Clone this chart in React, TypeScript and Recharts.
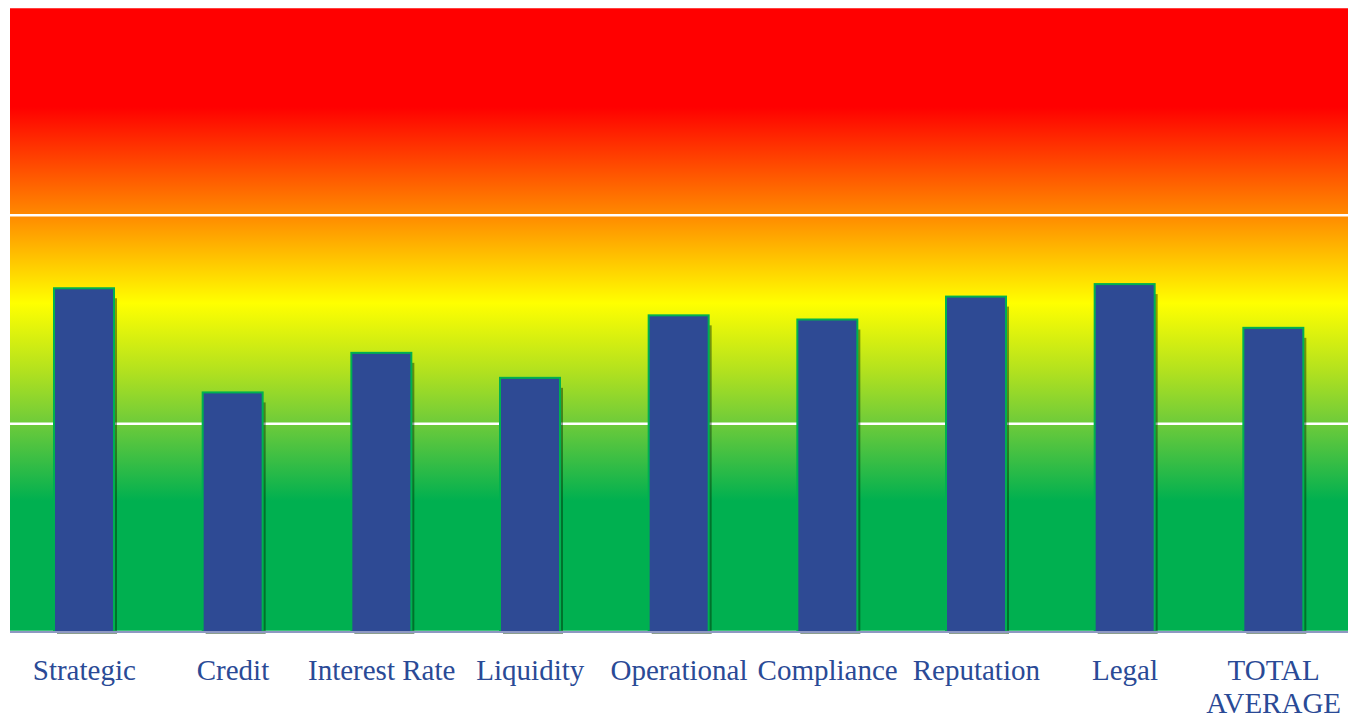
import React from 'react';
import { BarChart, Bar, XAxis, YAxis, CartesianGrid } from 'recharts';

const categories = ['Strategic', 'Credit', 'Interest Rate', 'Liquidity', 'Operational', 'Compliance', 'Reputation', 'Legal', 'TOTAL AVERAGE'];
const scores = [1.65, 1.15, 1.34, 1.22, 1.52, 1.5, 1.61, 1.67, 1.46];
const yTicks = [1, 2];

const data = categories.map((name, i) => ({ name, score: scores[i] }));

const FONT = '"Palatino Linotype", "Book Antiqua", Palatino, "Liberation Serif", serif';

const BarShape = (props: any) => {
  const { x, y, width, height } = props;
  return (
    <g>
      <rect x={x + 3} y={y + 10} width={width} height={height - 8} fill="rgba(0,40,0,0.45)" />
      <rect x={x} y={y} width={width} height={height} fill="#2E4A94" stroke="#00B050" strokeWidth={2} />
    </g>
  );
};

// all-caps labels (the total) are too wide for one slot, so they go on two lines
const Tick = (props: any) => {
  const { x, y, payload } = props;
  const label: string = payload.value;
  const lines = label === label.toUpperCase() ? label.split(' ') : [label];
  return (
    <text x={x} y={y + 40} textAnchor="middle" fill="#2A4A96" fontSize={29} fontFamily={FONT}>
      {lines.map((line, i) => (
        <tspan key={i} x={x} dy={i === 0 ? 0 : 33}>{line}</tspan>
      ))}
    </text>
  );
};

export default function App() {
  return (
    <div style={{ position: 'absolute', left: 0, top: 0, width: 1350, height: 720, background: '#fff' }}>
      <BarChart width={1350} height={720} data={data} margin={{ top: 7, right: 2, left: 10, bottom: 0 }} barCategoryGap={0}>
        <defs>
          <linearGradient id="riskBg" x1="0" y1="0" x2="0" y2="1">
            <stop offset="0" stopColor="#FF0000" />
            <stop offset="0.16" stopColor="#FF0000" />
            <stop offset="0.333" stopColor="#FF8A00" />
            <stop offset="0.474" stopColor="#FFFF00" />
            <stop offset="0.58" stopColor="#B4E21E" />
            <stop offset="0.666" stopColor="#6ECB3A" />
            <stop offset="0.79" stopColor="#00B050" />
            <stop offset="1" stopColor="#00B050" />
          </linearGradient>
        </defs>
        <CartesianGrid vertical={false} fill="url(#riskBg)" fillOpacity={1} stroke="#FFFFFF" strokeWidth={2.5} strokeDasharray="" />
        <YAxis hide domain={[0, 3]} ticks={yTicks} />
        <XAxis
          dataKey="name"
          interval={0}
          height={88}
          tickLine={false}
          axisLine={{ stroke: '#8E98C2', strokeWidth: 2 }}
          tick={<Tick />}
        />
        <Bar dataKey="score" barSize={60} shape={<BarShape />} isAnimationActive={false} />
      </BarChart>
    </div>
  );
}
